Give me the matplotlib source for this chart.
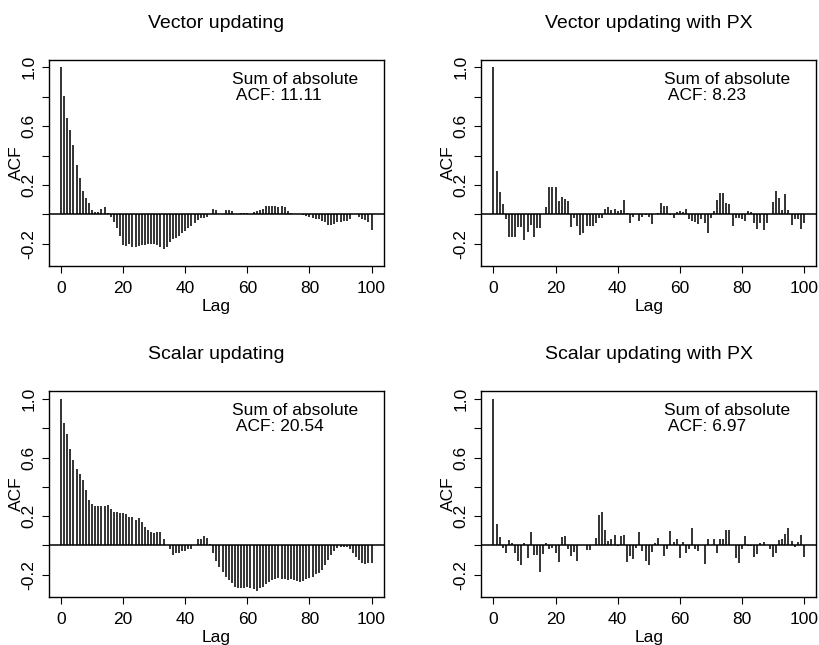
import matplotlib
matplotlib.use('Agg')
import matplotlib.pyplot as plt
import numpy as np

# autocorrelations, lags 0..100
lags = np.arange(0, 101)

vec = [1.0, 0.807, 0.653, 0.574, 0.469, 0.336, 0.245, 0.159, 0.113, 0.075,
       0.027, 0.014, 0.014, 0.036, 0.05, 0.01, -0.016, -0.054, -0.095, -0.145,
       -0.209, -0.215, -0.204, -0.22, -0.222, -0.215, -0.211, -0.211, -0.204, -0.2,
       -0.202, -0.209, -0.224, -0.234, -0.22, -0.186, -0.168, -0.163, -0.147, -0.125,
       -0.111, -0.095, -0.077, -0.061, -0.041, -0.025, -0.025, -0.02, 0.0, 0.036,
       0.032, 0.0, 0.005, 0.03, 0.03, 0.02, 0.0, 0.0, 0.01, 0.008,
       0.006, 0.0, 0.018, 0.02, 0.03, 0.035, 0.055, 0.058, 0.056, 0.055,
       0.05, 0.058, 0.05, 0.025, 0.01, 0.003, 0.0, 0.0, -0.005, -0.012,
       -0.02, -0.025, -0.03, -0.035, -0.045, -0.055, -0.07, -0.07, -0.065, -0.055,
       -0.05, -0.045, -0.045, -0.03, 0.0, 0.0, -0.02, -0.035, -0.04, -0.055,
       -0.105]

vec_px = [1.0, 0.297, 0.152, 0.073, -0.034, -0.156, -0.156, -0.156, -0.084, -0.084,
          -0.175, -0.12, -0.07, -0.152, -0.095, -0.095, 0.0, 0.05, 0.186, 0.186,
          0.188, 0.091, 0.118, 0.107, 0.091, -0.086, -0.025, -0.082, -0.141, -0.129,
          -0.077, -0.077, -0.077, -0.061, -0.025, -0.027, 0.034, 0.05, 0.027, 0.039,
          0.025, 0.03, 0.098, 0.008, -0.061, -0.02, 0.0, -0.043, -0.016, -0.005,
          -0.02, -0.068, 0.0, 0.008, 0.075, 0.059, 0.059, -0.005, -0.025, 0.014,
          0.023, 0.014, 0.034, -0.034, -0.043, -0.054, -0.066, -0.034, -0.061, -0.125,
          -0.025, 0.023, 0.095, 0.145, 0.145, 0.079, 0.068, -0.079, -0.027, -0.027,
          -0.034, -0.048, 0.025, 0.018, -0.061, -0.1, -0.061, -0.107, -0.057, 0.0,
          0.086, 0.159, 0.113, 0.027, 0.136, 0.027, -0.073, -0.032, -0.032, -0.102,
          -0.057]

sca = [1.0, 0.838, 0.761, 0.656, 0.583, 0.519, 0.485, 0.446, 0.378, 0.31,
       0.28, 0.269, 0.269, 0.267, 0.269, 0.276, 0.251, 0.23, 0.228, 0.221,
       0.219, 0.212, 0.194, 0.191, 0.173, 0.187, 0.159, 0.128, 0.105, 0.091,
       0.087, 0.091, 0.091, 0.041, 0.0, -0.023, -0.064, -0.055, -0.055, -0.036,
       -0.036, -0.025, -0.025, 0.0, 0.043, 0.043, 0.064, 0.05, 0.009, -0.055,
       -0.105, -0.146, -0.18, -0.214, -0.237, -0.26, -0.282, -0.294, -0.294, -0.289,
       -0.282, -0.289, -0.3, -0.31, -0.294, -0.282, -0.264, -0.248, -0.237, -0.23,
       -0.226, -0.23, -0.232, -0.237, -0.232, -0.237, -0.244, -0.253, -0.244, -0.232,
       -0.223, -0.214, -0.196, -0.19, -0.169, -0.134, -0.1, -0.066, -0.036, -0.02,
       -0.014, -0.009, -0.014, -0.027, -0.055, -0.077, -0.1, -0.123, -0.128, -0.123,
       -0.118]

sca_px = [1.0, 0.144, 0.059, -0.018, -0.05, 0.034, 0.014, -0.055, -0.107, -0.134,
          0.014, -0.084, 0.093, -0.066, -0.066, -0.185, -0.062, 0.014, -0.027, -0.018,
          -0.055, -0.116, 0.057, 0.064, -0.023, -0.071, -0.043, -0.105, 0.0, 0.0,
          -0.032, -0.032, 0.0, 0.048, 0.207, 0.228, 0.103, 0.03, 0.041, 0.071,
          -0.005, 0.064, 0.071, -0.116, -0.071, -0.096, -0.02, 0.093, -0.041, -0.109,
          -0.134, -0.046, 0.014, 0.05, 0.0, -0.071, -0.025, 0.098, 0.023, 0.041,
          -0.084, 0.023, -0.05, -0.027, 0.118, -0.027, -0.036, 0.0, -0.13, 0.041,
          0.0, 0.043, -0.05, 0.041, 0.046, 0.107, 0.107, 0.005, -0.089, -0.123,
          -0.027, 0.064, -0.005, -0.005, -0.077, -0.059, 0.016, 0.025, 0.0, -0.027,
          -0.077, -0.055, 0.039, 0.041, 0.075, 0.118, 0.032, -0.014, 0.02, 0.068,
          -0.077]

titles = ['Vector updating', 'Vector updating with PX',
          'Scalar updating', 'Scalar updating with PX']
sums = ['11.11', '8.23', '20.54', '6.97']

plt.rcParams['font.family'] = ['Liberation Sans', 'DejaVu Sans']


def acf_panel(ax, acf, title, total):
    # R style acf plot: spikes, zero line, padded limits
    ax.vlines(lags, 0, acf, color='#1a1a1a', linewidth=1.25)
    ax.axhline(0, color='black', linewidth=1.1)
    ax.set_xlim(-4, 104)
    ax.set_ylim(-0.352, 1.052)
    ax.set_xticks(range(0, 101, 20))
    ax.set_yticks([-0.2, 0.0, 0.2, 0.4, 0.6, 0.8, 1.0])
    ax.set_yticklabels(['-0.2', '', '0.2', '', '0.6', '', '1.0'],
                       rotation=90, va='center')
    ax.tick_params(length=5, width=0.8, labelsize=12.5)
    ax.tick_params(axis='y', pad=4)
    ax.tick_params(axis='x', pad=6)
    for s in ax.spines.values():
        s.set_linewidth(1.0)
    ax.set_title(title, fontsize=14, pad=23)
    ax.set_xlabel('Lag', fontsize=12.5)
    ax.set_ylabel('ACF', fontsize=12.5)
    ax.xaxis.set_label_coords(0.5, -0.16)
    ax.yaxis.set_label_coords(-0.075, 0.5)
    ax.text(55, 0.865, 'Sum of absolute\n ACF: ' + total, ha='left',
            va='center', fontsize=12.5, linespacing=1.05)


fig = plt.figure(figsize=(8.2, 6.45), dpi=100)
boxes = [[0.0593, 0.5876, 0.409, 0.3198],
         [0.5866, 0.5876, 0.409, 0.3198],
         [0.0593, 0.0747, 0.409, 0.3185],
         [0.5866, 0.0747, 0.409, 0.3185]]
series = [vec, vec_px, sca, sca_px]

for box, acf, title, total in zip(boxes, series, titles, sums):
    ax = fig.add_axes(box)
    acf_panel(ax, acf, title, total)

fig.savefig('out.png', dpi=100)
